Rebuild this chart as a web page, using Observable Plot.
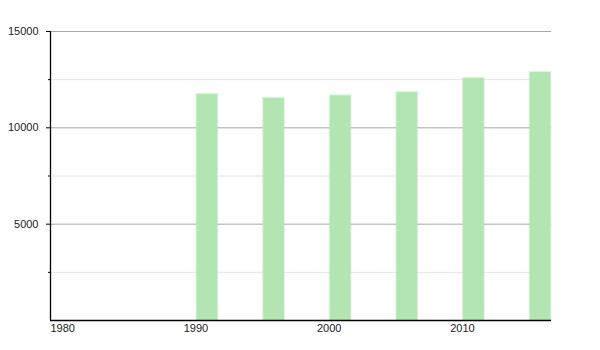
<!DOCTYPE html>
<html>
<head>
<meta charset="utf-8">
<script src="https://cdn.jsdelivr.net/npm/d3@7"></script>
<script src="https://cdn.jsdelivr.net/npm/@observablehq/plot@0.6"></script>
<style>
  html, body { margin: 0; padding: 0; background: #fff; }
  #chart svg { display: block; }
</style>
</head>
<body>
<div id="chart"></div>
<script>
const years = [1991, 1996, 2001, 2006, 2011, 2016];
const population = [11730, 11520, 11660, 11830, 12560, 12870];
const majorTicks = [5000, 10000, 15000];
const minorTicks = [2500, 7500, 12500];
const xTicks = [1980, 1990, 2000, 2010];

const data = years.map((y, i) => ({year: y, value: population[i]}));
const barWidth = 1.55;

const chart = Plot.plot({
  width: 600,
  height: 350,
  marginLeft: 50,
  marginRight: 49,
  marginTop: 31,
  marginBottom: 30,
  style: {fontFamily: "'Liberation Sans', Arial, sans-serif", fontSize: "11px", color: "#222", background: "#fff"},
  x: {domain: [1980, 2017.6]},
  y: {domain: [0, 15000]},
  marks: [
    Plot.ruleY(minorTicks, {stroke: "#e4e4e4", strokeWidth: 1}),
    Plot.ruleY(majorTicks, {stroke: "#a8a8a8", strokeWidth: 1}),
    Plot.rectY(data, {x1: "year", x2: d => d.year + barWidth, y: "value",
      fill: "#b3e5b3", stroke: "#b3e5b3", strokeOpacity: 0.45, strokeWidth: 2}),
    Plot.axisY(majorTicks, {tickSize: 4, tickPadding: 8, stroke: "#000", label: null, tickFormat: d => String(d)}),
    Plot.axisY(minorTicks, {tickSize: 2, stroke: "#000", text: null, label: null}),
    Plot.axisX(xTicks, {tickSize: 0, tickPadding: 4, textAnchor: "start", label: null, tickFormat: d => String(d)}),
    Plot.ruleX([1980], {y1: 0, y2: 15000, stroke: "#000", strokeWidth: 1.3}),
    Plot.ruleY([0], {stroke: "#000", strokeWidth: 1.3})
  ]
});
document.getElementById("chart").appendChild(chart);
</script>
</body>
</html>
